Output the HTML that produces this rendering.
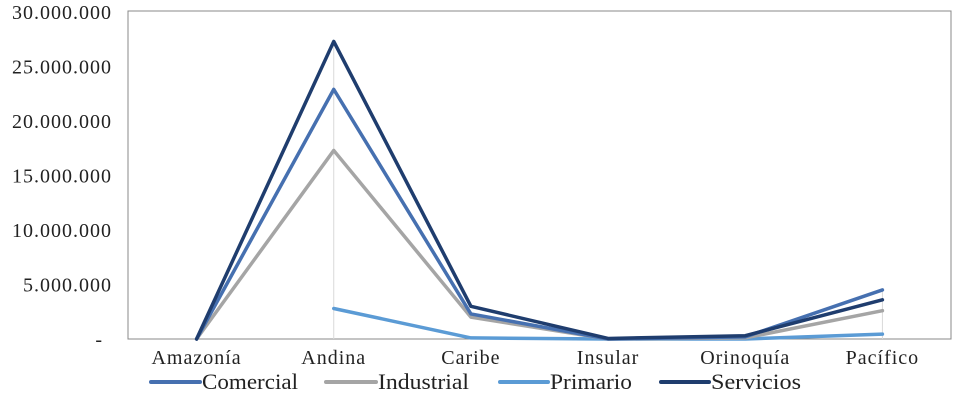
<!DOCTYPE html>
<html><head><meta charset="utf-8"><style>
body{margin:0;background:#fff;}
svg{display:block;font-family:"Liberation Serif",serif;}
</style></head><body>
<svg id="c" width="953" height="404"></svg>
<script>
const categories=["Amazonía","Andina","Caribe","Insular","Orinoquía","Pacífico"];
const comercial=[0,22900000,2300000,0,200000,4500000];
const industrial=[0,17300000,2000000,0,100000,2600000];
const primario=[null,2800000,100000,0,0,450000];
const servicios=[0,27300000,3000000,50000,300000,3600000];
const yTicks=[0,5000000,10000000,15000000,20000000,25000000,30000000];
const yTickLabels=["-","5.000.000","10.000.000","15.000.000","20.000.000","25.000.000","30.000.000"];
const seriesNames=["Comercial","Industrial","Primario","Servicios"];
const NS="http://www.w3.org/2000/svg";
const svg=document.getElementById('c');
const X0=128,X1=951,Y0=339,Y1=12,MAX=30000000;
const bw=(X1-X0)/categories.length;
const xs=i=>X0+bw*(i+0.5);
const ys=v=>Y0-v/MAX*(Y0-Y1);
function mk(t,a){const e=document.createElementNS(NS,t);for(const k in a)e.setAttribute(k,a[k]);svg.appendChild(e);return e;}
const frame=mk('rect',{x:X0,y:Y1-1,width:X1-X0,height:Y0-Y1+1,fill:'none',stroke:'#888','stroke-width':1});


yTicks.forEach((v,i)=>{const t=mk('text',{x:i==0?103:112,y:ys(v)+7,'text-anchor':'end','font-size':20,'letter-spacing':1,fill:'#222'});t.textContent=yTickLabels[i];

});
categories.forEach((c,i)=>{const t=mk('text',{x:xs(i),y:364,'text-anchor':'middle','font-size':20,'letter-spacing':1,fill:'#222'});t.textContent=c;

});
[1,5].forEach(i=>{const mx=Math.max(comercial[i],industrial[i],servicios[i]);const l=mk('line',{x1:xs(i),x2:xs(i),y1:ys(mx),y2:Y0,stroke:'#d9d9d9','stroke-width':1});

});
const colors=["#4670b0","#a5a5a5","#5b9bd5","#1f3d6e"];
const data=[comercial,industrial,primario,servicios];
const order=[2,1,0,3];
order.forEach(s=>{let d='';data[s].forEach((v,i)=>{if(v===null)return;d+=(d?'L':'M')+xs(i)+','+ys(v);});
const p=mk('path',{d:d,fill:'none',stroke:colors[s],'stroke-width':3.5,'stroke-linejoin':'round','stroke-linecap':'round'});

});
const lx1=[151,326,500,661];
const lx2=[200,376,548,709];
const tl=[96,91,82,90];
seriesNames.forEach((n,i)=>{const g=document.createElementNS(NS,'g');svg.appendChild(g);


const l=document.createElementNS(NS,'line');[['x1',lx1[i]],['x2',lx2[i]],['y1',382],['y2',382],['stroke',colors[i]],['stroke-width',4],['stroke-linecap','round']].forEach(a=>l.setAttribute(a[0],a[1]));g.appendChild(l);
const t=document.createElementNS(NS,'text');t.setAttribute('x',lx2[i]+2);t.setAttribute('y',389);t.setAttribute('font-size',22);t.setAttribute('textLength',tl[i]);t.setAttribute('lengthAdjust','spacingAndGlyphs');t.setAttribute('fill','#222');t.textContent=n;g.appendChild(t);});
</script>
</body></html>
